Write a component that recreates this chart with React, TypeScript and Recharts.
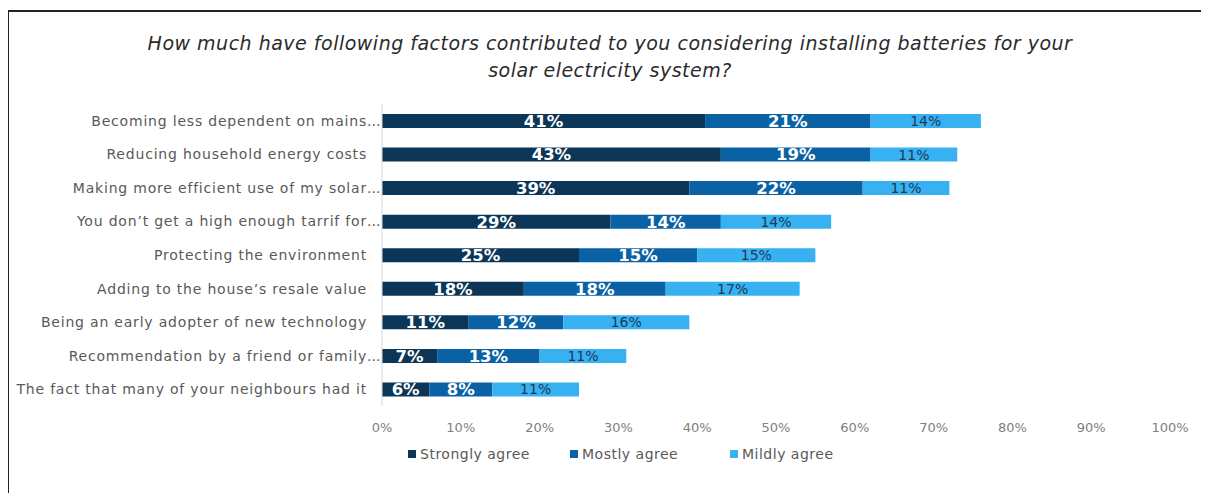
import { BarChart, Bar, XAxis, YAxis, LabelList } from 'recharts';

const factors = [
  'Becoming less dependent on mains...',
  'Reducing household energy costs',
  'Making more efficient use of my solar...',
  'You don\u2019t get a high enough tarrif for...',
  'Protecting the environment',
  'Adding to the house\u2019s resale value',
  'Being an early adopter of new technology',
  'Recommendation by a friend or family...',
  'The fact that many of your neighbours had it',
];
const stronglyAgree = [41, 43, 39, 29, 25, 18, 11, 7, 6];
const mostlyAgree = [21, 19, 22, 14, 15, 18, 12, 13, 8];
const mildlyAgree = [14, 11, 11, 14, 15, 17, 16, 11, 11];
const xTicks = [0, 10, 20, 30, 40, 50, 60, 70, 80, 90, 100];
const seriesNames = ['Strongly agree', 'Mostly agree', 'Mildly agree'];
const seriesKeys = ['strongly', 'mostly', 'mildly'];
const colors = ['#0b3658', '#0a62a4', '#37b1f2'];

const data = factors.map((factor, i) => ({
  factor,
  strongly: stronglyAgree[i],
  mostly: mostlyAgree[i],
  mildly: mildlyAgree[i],
}));

const FONT = '"DejaVu Sans", sans-serif';

function FactorTick({ x, y, payload }: any) {
  const text: string = payload.value;
  const cut = text.endsWith('...');
  const main = cut ? text.slice(0, -3) : text;
  const style = { letterSpacing: 0.8 };
  return (
    <g>
      <text x={x} y={y} dy={5} textAnchor="end" fill="#595959" fontSize={14} fontFamily={FONT} style={style}>
        {main}
      </text>
      {cut && (
        <text x={x} y={y} dy={5} textAnchor="start" fill="#595959" fontSize={14} fontFamily={FONT}>
          ...
        </text>
      )}
    </g>
  );
}

export default function App() {
  return (
    <div style={{ position: 'relative', width: 1209, height: 501, margin: -8, background: '#fff', overflow: 'hidden' }}>
      <div
        style={{
          position: 'absolute',
          left: 7,
          top: 10,
          right: -5,
          bottom: -5,
          borderLeft: '2px solid #222',
          borderTop: '2px solid #222',
        }}
      />
      <div
        style={{
          position: 'absolute',
          top: 30,
          left: 0,
          width: 1220,
          textAlign: 'center',
          fontFamily: FONT,
          fontStyle: 'italic',
          fontSize: 19,
          letterSpacing: 0.5,
          lineHeight: '27px',
          color: '#2b2b2b',
        }}
      >
        How much have following factors contributed to you considering installing batteries for your
        <br />
        solar electricity system?
      </div>
      <div style={{ position: 'absolute', left: 0, top: 0 }}>
        <BarChart
          width={1209}
          height={501}
          data={data}
          layout="vertical"
          margin={{ top: 104, right: 39, bottom: 65, left: 0 }}
          barSize={14}
        >
          <XAxis
            type="number"
            domain={[0, 100]}
            ticks={xTicks}
            tickFormatter={(v: number) => `${v}%`}
            axisLine={false}
            tickLine={false}
            tickMargin={11}
            height={30}
            tick={{ fill: '#7f7f7f', fontSize: 13, fontFamily: FONT }}
          />
          <YAxis
            type="category"
            dataKey="factor"
            width={382}
            axisLine={{ stroke: '#d9d9d9' }}
            tickLine={false}
            tickMargin={9}
            tick={<FactorTick />}
            interval={0}
          />
          {seriesKeys.map((key, i) => (
            <Bar key={key} dataKey={key} name={seriesNames[i]} stackId="a" fill={colors[i]} isAnimationActive={false}>
              <LabelList
                dataKey={key}
                position="center"
                formatter={(v: any) => `${v}%`}
                fill={i < 2 ? '#ffffff' : '#1d3a56'}
                fontSize={i < 2 ? 16.5 : 14}
                fontWeight={i < 2 ? 'bold' : 'normal'}
                fontFamily={FONT}
              />
            </Bar>
          ))}
        </BarChart>
      </div>
      <div
        style={{
          position: 'absolute',
          top: 446,
          left: 408,
          display: 'flex',
          fontFamily: FONT,
          fontSize: 14,
          letterSpacing: 0.5,
          color: '#595959',
        }}
      >
        {seriesNames.map((name, i) => (
          <div key={name} style={{ display: 'flex', alignItems: 'center', width: [162, 160, 120][i] }}>
            <span style={{ width: 8, height: 8, background: colors[i], marginRight: 4 }} />
            {name}
          </div>
        ))}
      </div>
    </div>
  );
}
